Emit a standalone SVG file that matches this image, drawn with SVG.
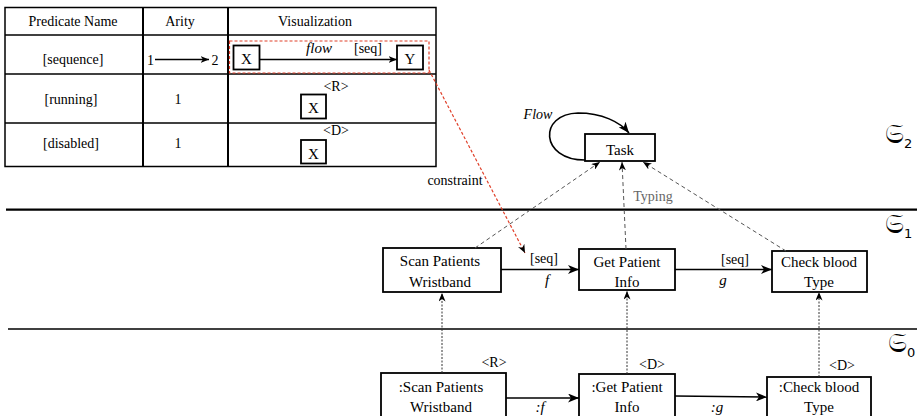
<svg xmlns="http://www.w3.org/2000/svg" width="917" height="416" viewBox="0 0 917 416" font-family="'Liberation Serif', serif">
<style>
text{font-family:'Liberation Serif',serif;fill:#000}
.t14{font-size:14px}
.t15{font-size:15px}
.mid{text-anchor:middle}
.it{font-style:italic}
.box{fill:#fff;stroke:#000;stroke-width:1.8}
.cell{fill:none;stroke:#000;stroke-width:1.5}
.solid{fill:none;stroke:#000;stroke-width:1.6}
.typing{fill:none;stroke:#555;stroke-width:1;stroke-dasharray:4 3}
.dotted{fill:none;stroke:#333;stroke-width:1;stroke-dasharray:2 1.5}
.red{fill:none;stroke:#e0402a;stroke-width:1.2;stroke-dasharray:3 2}
.frak{font-family:'DejaVu Serif','DejaVu Sans',serif;font-size:27px}
.sub{font-family:'DejaVu Sans','Liberation Sans',sans-serif;font-size:13px}
</style>
<defs>
<marker id="ah" markerUnits="userSpaceOnUse" markerWidth="12" markerHeight="9" refX="11" refY="4.5" orient="auto">
<path d="M0,0 L11,4.5 L0,9 L3,4.5 z" fill="#000"/>
</marker>
<marker id="ahs" markerUnits="userSpaceOnUse" markerWidth="9" markerHeight="7" refX="8.5" refY="3.5" orient="auto">
<path d="M0,0 L8.5,3.5 L0,7 L2.5,3.5 z" fill="#000"/>
</marker>
</defs>

<g id="table">
<rect class="cell" x="5" y="7.5" width="431" height="159"/>
<line class="cell" x1="5" y1="35" x2="436" y2="35"/>
<line class="cell" x1="5" y1="74" x2="436" y2="74"/>
<line class="cell" x1="5" y1="123" x2="436" y2="123"/>
<line class="cell" x1="143" y1="7.5" x2="143" y2="166.5" style="stroke-width:2"/>
<line class="cell" x1="228" y1="7.5" x2="228" y2="166.5" style="stroke-width:2"/>
<text class="t14 mid" x="73" y="26">Predicate Name</text>
<text class="t14 mid" x="180" y="26">Arity</text>
<text class="t14 mid" x="315" y="26">Visualization</text>
<text class="t14 mid" x="73" y="64">[sequence]</text>
<text class="t14 mid" x="150.5" y="65">1</text>
<line class="solid" x1="155" y1="59.5" x2="209" y2="59.5" marker-end="url(#ahs)"/>
<text class="t14 mid" x="215" y="65">2</text>
<text class="t14 mid" x="71" y="104">[running]</text>
<text class="t14 mid" x="178" y="104">1</text>
<text class="t14 mid" x="71" y="148">[disabled]</text>
<text class="t14 mid" x="178" y="148">1</text>
<rect class="red" x="229.5" y="41" width="199.5" height="32"/>
<rect class="box" x="233.5" y="45.5" width="26" height="24"/>
<text class="t15 mid" x="246.5" y="64">X</text>
<rect class="box" x="397" y="45.5" width="26" height="24"/>
<text class="t15 mid" x="410" y="64">Y</text>
<line class="solid" x1="259.5" y1="59.5" x2="397" y2="59.5" marker-end="url(#ahs)"/>
<text class="t15 mid it" x="319" y="53">flow</text>
<text class="t14 mid" x="368" y="53">[seq]</text>
<rect class="box" x="301" y="94.5" width="25" height="24"/>
<text class="t15 mid" x="313.5" y="113">X</text>
<text class="t14 mid" x="336" y="91">&lt;R&gt;</text>
<rect class="box" x="301" y="140" width="25" height="23.5"/>
<text class="t15 mid" x="313.5" y="159">X</text>
<text class="t14 mid" x="336" y="135">&lt;D&gt;</text>
</g>

<g id="levels">
<line x1="6" y1="209.7" x2="917" y2="209.7" stroke="#000" stroke-width="2.2"/>
<line x1="8" y1="329" x2="917" y2="329" stroke="#000" stroke-width="1.4"/>
<text x="885" y="143"><tspan class="frak">𝔖</tspan><tspan class="sub" dy="5">2</tspan></text>
<text x="885" y="233"><tspan class="frak">𝔖</tspan><tspan class="sub" dy="5">1</tspan></text>
<text x="888" y="352"><tspan class="frak">𝔖</tspan><tspan class="sub" dy="5">0</tspan></text>
</g>

<g id="task">
<rect class="box" x="585" y="134" width="70" height="27"/>
<text class="t15 mid" x="620" y="155">Task</text>
</g>

<g id="scan">
<rect class="box" x="383" y="248" width="118" height="44"/>
<text class="t15 mid" x="440" y="266">Scan Patients</text>
<text class="t15 mid" x="440" y="287">Wristband</text>
</g>
<g id="getinfo">
<rect class="box" x="579" y="249" width="96" height="41"/>
<text class="t15 mid" x="627" y="267">Get Patient</text>
<text class="t15 mid" x="627" y="287">Info</text>
</g>
<g id="checkblood">
<rect class="box" x="772" y="251" width="95" height="41"/>
<text class="t15 mid" x="819" y="267">Check blood</text>
<text class="t15 mid" x="819" y="287">Type</text>
</g>

<g id="scan0">
<rect class="box" x="381" y="373" width="125" height="48"/>
<text class="t15 mid" x="441" y="392">:Scan Patients</text>
<text class="t15 mid" x="441" y="412">Wristband</text>
<text class="t14 mid" x="494" y="367">&lt;R&gt;</text>
</g>
<g id="getinfo0">
<rect class="box" x="579" y="374" width="96" height="47"/>
<text class="t15 mid" x="627" y="392">:Get Patient</text>
<text class="t15 mid" x="627" y="412">Info</text>
<text class="t14 mid" x="652" y="369">&lt;D&gt;</text>
</g>
<g id="checkblood0">
<rect class="box" x="767" y="377" width="104" height="44"/>
<text class="t15 mid" x="819" y="392">:Check blood</text>
<text class="t15 mid" x="819" y="412">Type</text>
<text class="t14 mid" x="842" y="370">&lt;D&gt;</text>
</g>

<g id="connectors">
<path class="solid" d="M585,160 C540,160 538,114 578,113 C602,113 620,122 629,133" marker-end="url(#ah)"/>
<text class="t14 mid it" x="538" y="119">Flow</text>
<line class="typing" x1="475" y1="248" x2="600" y2="162" marker-end="url(#ahs)"/>
<line class="typing" x1="626" y1="249" x2="622" y2="162" marker-end="url(#ahs)"/>
<line class="typing" x1="786" y1="251" x2="643" y2="162" marker-end="url(#ahs)"/>
<text class="t14 mid" x="653" y="201" style="fill:#666">Typing</text>
<line class="red" x1="429" y1="70" x2="525" y2="253"/>
<line x1="522" y1="247" x2="525" y2="253" stroke="none" marker-end="url(#ahs)"/>
<text class="t14 mid" x="455" y="185">constraint</text>
<line class="solid" x1="501" y1="269.5" x2="579" y2="269.5" marker-end="url(#ah)"/>
<text class="t14 mid" x="544" y="263">[seq]</text>
<text class="t15 mid it" x="547" y="285">f</text>
<line class="solid" x1="675" y1="269.5" x2="772" y2="269.5" marker-end="url(#ah)"/>
<text class="t14 mid" x="735" y="264">[seq]</text>
<text class="t15 mid it" x="723" y="285">g</text>
<line class="dotted" x1="442" y1="373" x2="442" y2="293" marker-end="url(#ahs)"/>
<line class="dotted" x1="627" y1="374" x2="627" y2="291" marker-end="url(#ahs)"/>
<line class="dotted" x1="819" y1="377" x2="819" y2="292" marker-end="url(#ahs)"/>
<line class="solid" x1="506" y1="398" x2="579" y2="398" marker-end="url(#ah)"/>
<text class="t15 mid it" x="540" y="412">:f</text>
<line class="solid" x1="675" y1="396" x2="767" y2="397" marker-end="url(#ah)"/>
<text class="t15 mid it" x="717" y="412">:g</text>
</g>
</svg>
